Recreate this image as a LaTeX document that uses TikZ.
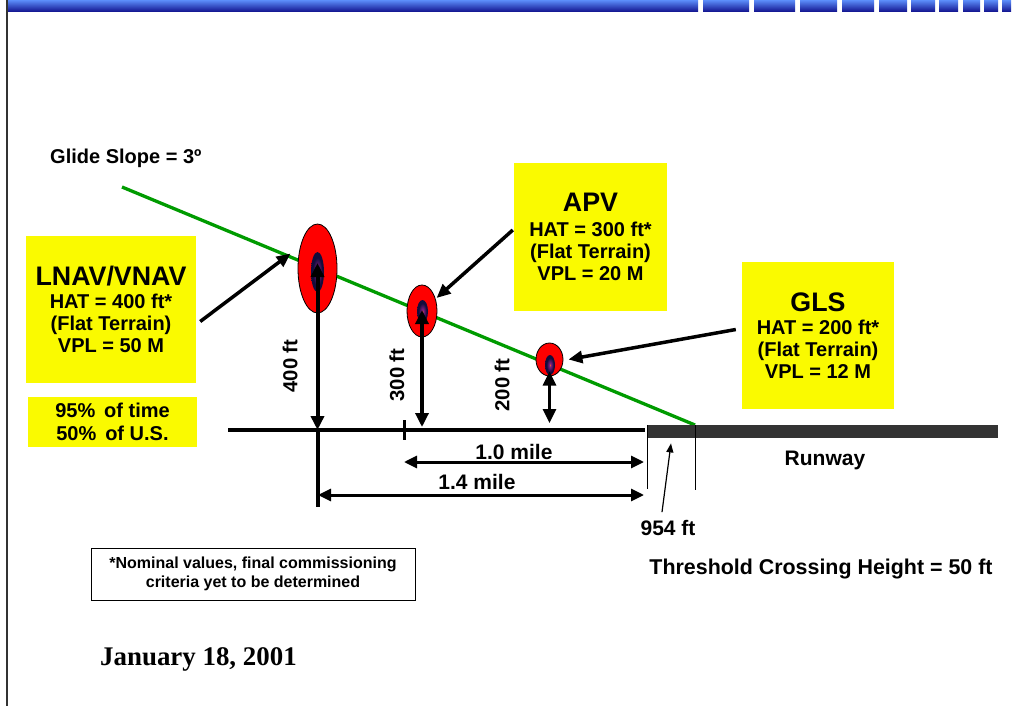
\documentclass[tikz,border=0pt]{standalone}
\usepackage{fontspec}
\setmainfont{Liberation Sans}
\newfontfamily\timesfam{Liberation Serif}
\usetikzlibrary{shapes.geometric,arrows.meta}
\definecolor{ylw}{RGB}{250,250,0}
\definecolor{gsgreen}{RGB}{0,155,0}
\definecolor{rwy}{RGB}{51,51,51}
\definecolor{bartop}{RGB}{92,142,250}
\definecolor{barbot}{RGB}{16,16,140}
\definecolor{hotc}{RGB}{230,90,40}
\definecolor{innerc}{RGB}{130,30,130}
\definecolor{outerc}{RGB}{18,12,60}
\pgfdeclareradialshading{glow}{\pgfpoint{0bp}{0bp}}{color(0bp)=(hotc); color(4bp)=(innerc); color(18bp)=(outerc); color(50bp)=(outerc)}
\tikzset{
  fs/.style 2 args={font=\fontsize{#1}{#2}\selectfont\bfseries},
  ybox/.style={fill=ylw, inner sep=0pt, align=center},
  barseg/.style={top color=bartop, bottom color=barbot, draw=none},
  redell/.style={ellipse, draw=black, line width=0.8pt, fill=red, inner sep=0pt},
  inell/.style={ellipse, inner sep=0pt, shading=glow},
  bigtip/.style={>={Triangle[length=14pt,width=13pt]}},
  vline/.style={line width=#1, bigtip, <->},
  ptr/.style={line width=3.5pt, ->, >={Triangle[length=14pt,width=12pt]}},
  dim/.style={line width=3pt, <->, >={Triangle[length=13pt,width=12pt]}},
  lbl/.style={inner sep=0pt}
}
\begin{document}
\begin{tikzpicture}[x=1pt,y=-1pt]
\useasboundingbox (0,0) rectangle (1013,706);
% top bar
\foreach \a/\b in {7/698,703/749,754/795,800/837,842/874,879/907,911/935,939/958,963/980,984/998,1002/1011}
  \shade[barseg] (\a,0) rectangle (\b,12);
% left border
\draw[line width=1.3pt, black!80] (7,0) -- (7,706);

% glide slope
\node[lbl, fs={20}{22}, anchor=west] (gstext) at (50,158) {Glide Slope = 3º};
\coordinate (gs0) at (122,187);
\coordinate (td) at (695,425);
\draw[gsgreen, line width=3.3pt] (gs0) -- (td);

% runway
\node[fill=rwy, inner sep=0pt, minimum width=351pt, minimum height=13pt, anchor=north west] (runway) at (647,425) {};
\draw[line width=1pt] (runway.north west) -- ([yshift=-64pt]runway.north west);
\draw[line width=1pt] (td) -- ([yshift=-65pt]td);
\node[lbl, fs={21}{22}] (rwtext) at (825,460) {Runway};

% baseline
\coordinate (bl0) at (228,430);
\coordinate (bl1) at (645,430);
\draw[line width=3.5pt] (bl0) -- (bl1);
\coordinate (tk) at (404,430);
\draw[line width=3pt] ([yshift=10pt]tk) -- ([yshift=-10pt]tk);

% ellipses
\node[redell, minimum width=39pt, minimum height=89pt] (e1) at (317.5,268.5) {};
\node[inell, minimum width=13pt, minimum height=40pt] (i1) at (317.5,272) {};
\node[redell, minimum width=30pt, minimum height=52pt] (e2) at (422,311) {};
\node[inell, minimum width=11pt, minimum height=23pt] (i2) at (422.5,311.5) {};
\node[redell, minimum width=27pt, minimum height=33pt] (e3) at (549.5,359.5) {};
\node[inell, minimum width=10pt, minimum height=20pt] (i3) at (550,365) {};

% vertical arrows
\draw[vline=4pt] ([yshift=5.5pt]e1.center) -- (e1.center |- bl0);
\draw[vline=3.3pt] ([yshift=1pt]e2.center) -- ([yshift=3pt]e2.center |- bl0);
\draw[vline=3pt] ([yshift=-12pt]e3.center) -- ([yshift=7pt]e3.center |- bl0);
% 1.4 mile extension
\draw[line width=4pt] (e1.center |- bl0) -- ([yshift=-77pt]e1.center |- bl0);

% height labels
\node[lbl, fs={20.3}{22}, rotate=90] (h400) at (290,366) {400 ft};
\node[lbl, fs={20.3}{22}, rotate=90] (h300) at (397,375) {300 ft};
\node[lbl, fs={20.3}{22}, rotate=90] (h200) at (502,385) {200 ft};

% dimension arrows
\coordinate (d1a) at (404,462);
\coordinate (d1b) at (644,462);
\coordinate (d2a) at (318,495);
\coordinate (d2b) at (644,495);
\draw[dim] (d1a) -- (d1b);
\draw[dim] (d2a) -- (d2b);
\node[lbl, fs={21}{22}] (m10) at (514,452) {1.0 mile};
\node[lbl, fs={21}{22}] (m14) at (477,482) {1.4 mile};

% 954 ft
\node[lbl, fs={21}{22}] (f954) at (668,528) {954 ft};
\draw[line width=1.2pt, ->, >={Triangle[length=9pt,width=7pt]}] ([xshift=-6pt,yshift=8pt]f954.north) -- ([xshift=3pt,yshift=-5pt]runway.south west -| f954.north);

% boxes
\node[ybox, fs={20}{22}, minimum width=170pt, minimum height=147pt] (lnav) at (111,309.5)
  {{\fontsize{26.8}{28}\selectfont LNAV/VNAV}\\[1pt] HAT = 400 ft*\\ (Flat Terrain)\\ VPL = 50 M};
\node[ybox, fs={20}{23}, minimum width=169pt, minimum height=50pt] (pct) at (112.5,422)
  {95\%\ \,of time\\ 50\%\ \,of U.S.};
\node[ybox, fs={20}{22}, minimum width=153pt, minimum height=148pt] (apv) at (590.5,237)
  {{\fontsize{26.8}{28}\selectfont APV}\\[3pt] HAT = 300 ft*\\ (Flat Terrain)\\ VPL = 20 M};
\node[ybox, fs={20}{22}, minimum width=152pt, minimum height=147pt] (gls) at (818,335.5)
  {{\fontsize{26.8}{28}\selectfont GLS}\\[1pt] HAT = 200 ft*\\ (Flat Terrain)\\ VPL = 12 M};

% pointer arrows
\draw[ptr] ([shift={(4,12)}]lnav.east) -- ([shift={(-7,-15)}]e1.west);
\draw[ptr] ([shift={(-1,-7)}]apv.west) -- ([shift={(1.5,1)}]e2.47);
\draw[ptr] ([shift={(-6,-6)}]gls.west) -- ([xshift=5pt]e3.east);

% note box
\node[draw=black, line width=1pt, fs={16}{19}, align=center, minimum width=324pt, minimum height=52pt, inner sep=0pt] (note) at (253,574)
  {*Nominal values, final commissioning\\ criteria yet to be determined};

\node[lbl, fs={21.4}{22}] (tch) at (821,569) {Threshold Crossing Height = 50 ft};
\node[lbl, anchor=west, font=\timesfam\bfseries\fontsize{26.9}{28}\selectfont] (date) at (100,659) {January 18, 2001};
\end{tikzpicture}
\end{document}
